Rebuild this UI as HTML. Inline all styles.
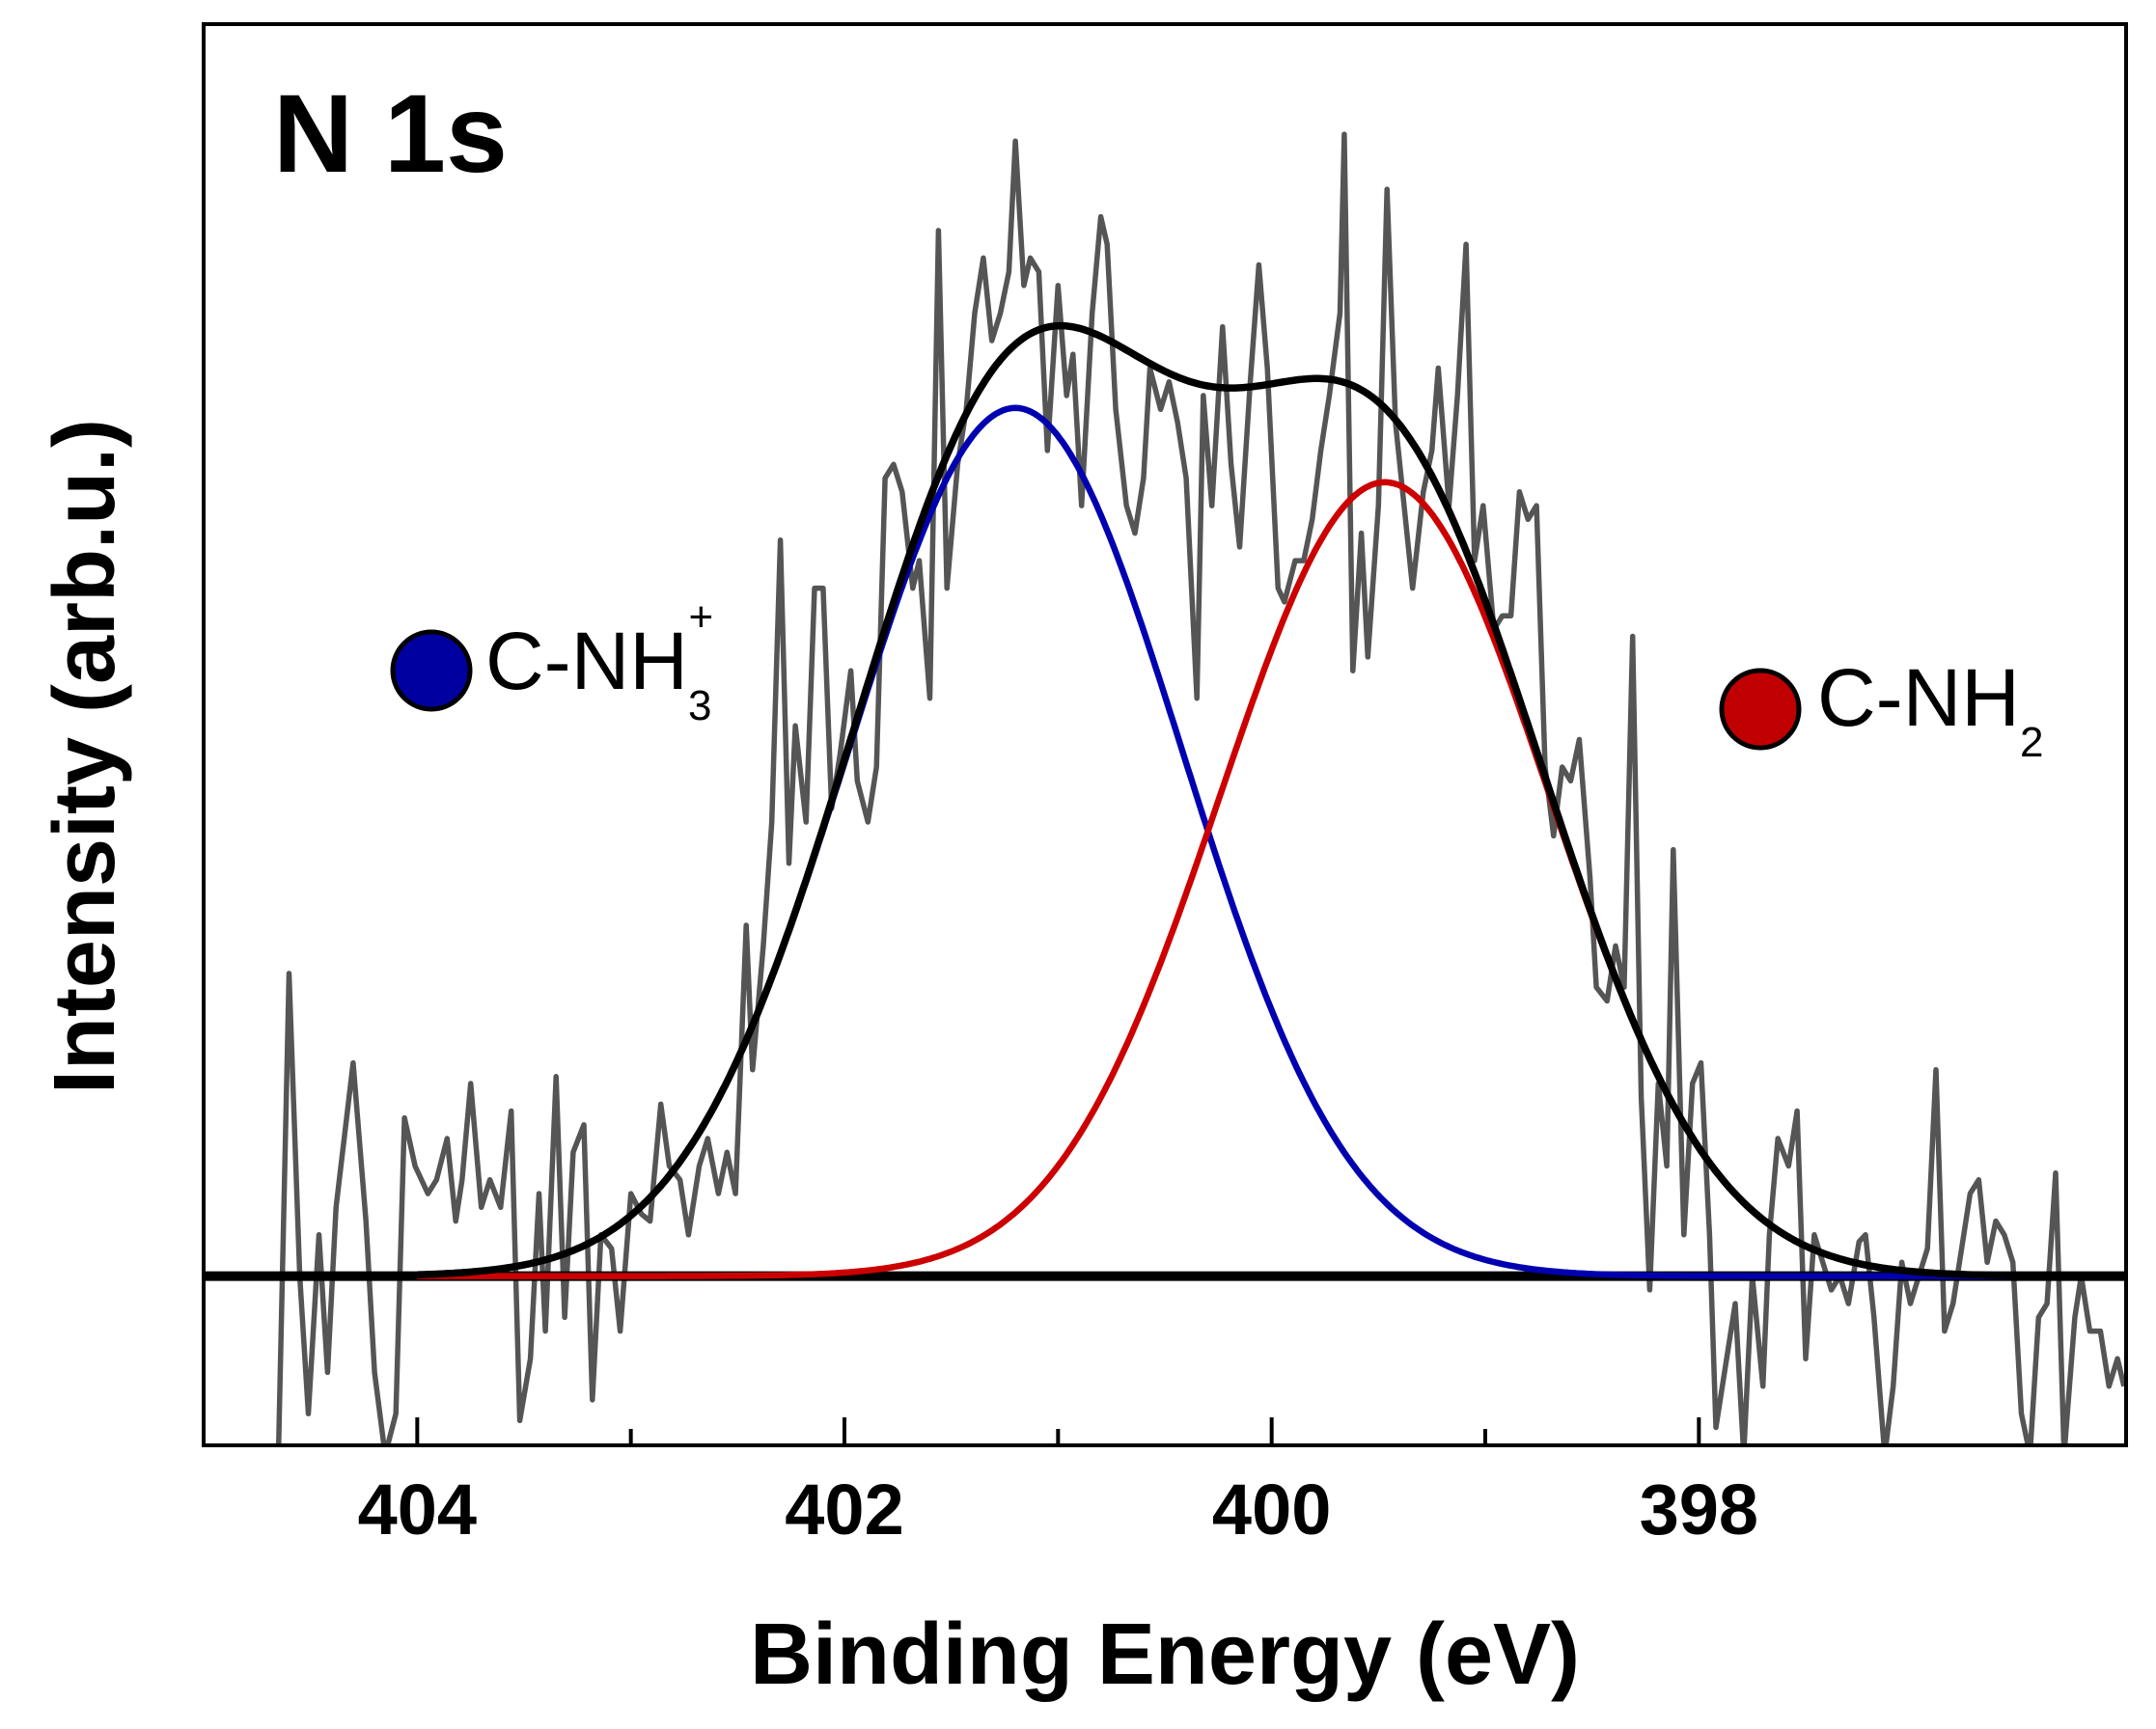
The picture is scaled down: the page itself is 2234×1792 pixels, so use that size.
<!DOCTYPE html>
<html><head><meta charset="utf-8"><style>
html,body{margin:0;padding:0;background:#fff;}
svg{display:block;}
text{font-family:"Liberation Sans",Arial,sans-serif;}
</style></head><body>
<svg id="chart" width="2234" height="1792" viewBox="0 0 2234 1792" xmlns="http://www.w3.org/2000/svg">
<defs><clipPath id="plotclip"><rect x="211" y="25" width="1992" height="1473"/></clipPath></defs>
<g id="plot" clip-path="url(#plotclip)"></g>
<rect x="211" y="25" width="1992" height="1473" fill="none" stroke="#000" stroke-width="4"/>
<g id="ticks"></g>
<text x="283" y="178" font-size="115" font-weight="bold">N 1s</text>
<text x="1207" y="1745" font-size="90" font-weight="bold" text-anchor="middle">Binding Energy (eV)</text>
<text transform="translate(118,784) rotate(-90)" font-size="90" font-weight="bold" text-anchor="middle">Intensity (arb.u.)</text>
<g>
<circle cx="447" cy="695" r="40" fill="#0000a0" stroke="#000" stroke-width="5"/>
<text x="503" y="714" font-size="84">C-NH<tspan font-size="44" dy="32">3</tspan><tspan font-size="44" dx="-24" dy="-92">+</tspan></text>
</g>
<g>
<circle cx="1824" cy="735" r="40" fill="#c00000" stroke="#000" stroke-width="5"/>
<text x="1883" y="752" font-size="84">C-NH<tspan font-size="44" dy="32">2</tspan></text>
</g>
</svg>
<script>
const energies=[404.70,404.65,404.60,404.55,404.51,404.46,404.42,404.38,404.30,404.24,404.20,404.15,404.10,404.06,404.01,403.95,403.91,403.86,403.82,403.79,403.75,403.70,403.66,403.61,403.56,403.52,403.47,403.43,403.40,403.35,403.31,403.27,403.22,403.18,403.14,403.09,403.05,403.00,402.95,402.91,402.86,402.82,402.77,402.73,402.68,402.64,402.59,402.55,402.51,402.46,402.43,402.38,402.34,402.30,402.26,402.23,402.18,402.14,402.10,402.06,402.02,401.97,401.94,401.89,401.85,401.81,401.77,401.73,401.68,401.65,401.60,401.56,401.52,401.47,401.43,401.39,401.35,401.31,401.27,401.23,401.20,401.16,401.13,401.09,401.05,401.00,400.96,400.93,400.89,400.84,400.80,400.77,400.73,400.68,400.64,400.60,400.57,400.52,400.48,400.44,400.40,400.35,400.32,400.28,400.23,400.19,400.15,400.10,400.06,400.02,399.97,399.94,399.89,399.85,399.81,399.77,399.73,399.68,399.66,399.62,399.58,399.55,399.50,399.46,399.42,399.38,399.34,399.29,399.25,399.22,399.17,399.13,399.09,399.05,399.01,398.96,398.92,398.88,398.84,398.80,398.76,398.72,398.68,398.64,398.60,398.56,398.51,398.48,398.43,398.39,398.35,398.31,398.27,398.23,398.19,398.15,398.12,398.07,398.03,397.99,397.95,397.92,397.87,397.83,397.79,397.75,397.70,397.67,397.63,397.58,397.54,397.50,397.46,397.42,397.38,397.34,397.30,397.25,397.22,397.18,397.13,397.09,397.05,397.01,396.97,396.93,396.89,396.85,396.81,396.77,396.73,396.69,396.65,396.61,396.57,396.53,396.49,396.45,396.41,396.37,396.33,396.29,396.24,396.21,396.17,396.12,396.08,396.04,396.01];
const intensities=[-130,-130,220,0,-100,30,-70,50,155,40,-70,-130,-100,115,80,60,70,100,40,70,140,50,70,50,120,-105,-60,60,-40,145,-30,90,110,-90,30,20,-40,60,45,40,125,80,70,30,80,100,60,90,60,255,150,240,330,535,300,400,330,500,500,340,380,440,360,330,370,580,590,570,500,520,420,760,500,590,630,700,740,680,700,730,825,720,740,730,600,720,640,670,560,700,770,750,630,560,540,580,660,630,650,620,580,420,640,560,690,590,530,650,735,660,500,490,520,520,550,600,640,700,830,440,540,450,560,790,620,560,500,570,600,660,560,640,750,520,560,470,480,480,570,550,560,370,320,370,360,390,290,210,200,240,210,465,130,-10,140,80,310,30,140,155,30,-110,-60,-20,-130,0,-80,30,100,80,120,-60,30,10,-10,0,-20,25,30,-30,-130,-80,10,-20,0,20,150,-40,-20,20,60,70,10,40,30,10,-100,-130,-30,-20,75,-130,-30,0,-40,-40,-80,-60,-80];
const peakCenters=[401.2,399.47];
const peakAmplitudes=[631,577];
const peakSigmas=[0.78,0.77];
const peakColors=["#0000b0","#cc0000"];
const peakNames=["fit-c-nh3-blue","fit-c-nh2-red"];
const xTicksMajor=[404,402,400,398];
const xTicksMinor=[403,401,399];

const X0=211,X1=2203,Y0=1498,Y1=25;
const xDom=[405,396],yDom=[-123,910];
function xs(e){return X0+(e-xDom[0])/(xDom[1]-xDom[0])*(X1-X0);}
function ys(v){return Y0-(v-yDom[0])/(yDom[1]-yDom[0])*(Y0-Y1);}
const NS="http://www.w3.org/2000/svg";
const plot=document.getElementById('plot');
const ticks=document.getElementById('ticks');
function gauss(e,i){const d=e-peakCenters[i];return peakAmplitudes[i]*Math.exp(-d*d/(2*peakSigmas[i]*peakSigmas[i]));}

let d='';
energies.forEach((e,i)=>{d+=(i?'L':'M')+xs(e).toFixed(1)+' '+ys(intensities[i]).toFixed(1);});
const raw=document.createElementNS(NS,'path');
raw.setAttribute('d',d);raw.setAttribute('fill','none');raw.setAttribute('stroke','#555');raw.setAttribute('stroke-width','5.5');raw.setAttribute('stroke-linejoin','round');


plot.appendChild(raw);

const bl=document.createElementNS(NS,'line');
bl.setAttribute('x1',X0);bl.setAttribute('x2',X1);bl.setAttribute('y1',ys(0));bl.setAttribute('y2',ys(0));
bl.setAttribute('stroke','#000');bl.setAttribute('stroke-width','10');


plot.appendChild(bl);

const grid=[];for(let e=404.0;e>=396.0;e-=0.01)grid.push(e);
peakCenters.forEach((c,i)=>{
  let p='';grid.forEach((e,k)=>{p+=(k?'L':'M')+xs(e).toFixed(1)+' '+ys(gauss(e,i)).toFixed(1);});
  const el=document.createElementNS(NS,'path');
  el.setAttribute('d',p);el.setAttribute('fill','none');el.setAttribute('stroke',peakColors[i]);el.setAttribute('stroke-width','6.5');
  
  
  plot.appendChild(el);
});
let s='';grid.forEach((e,k)=>{let v=0;peakCenters.forEach((c,i)=>v+=gauss(e,i));s+=(k?'L':'M')+xs(e).toFixed(1)+' '+ys(v).toFixed(1);});
const env=document.createElementNS(NS,'path');
env.setAttribute('d',s);env.setAttribute('fill','none');env.setAttribute('stroke','#000');env.setAttribute('stroke-width','7.5');


plot.appendChild(env);

xTicksMajor.forEach(t=>{
  const l=document.createElementNS(NS,'line');
  l.setAttribute('x1',xs(t));l.setAttribute('x2',xs(t));l.setAttribute('y1',Y0);l.setAttribute('y2',Y0-29);
  l.setAttribute('stroke','#000');l.setAttribute('stroke-width','4');
  
  
  ticks.appendChild(l);
  const tx=document.createElementNS(NS,'text');
  tx.setAttribute('x',xs(t));tx.setAttribute('y',1590);tx.setAttribute('text-anchor','middle');
  tx.setAttribute('font-size','74');tx.setAttribute('font-weight','bold');
  tx.textContent=t;
  
  
  ticks.appendChild(tx);
});
xTicksMinor.forEach(t=>{
  const l=document.createElementNS(NS,'line');
  l.setAttribute('x1',xs(t));l.setAttribute('x2',xs(t));l.setAttribute('y1',Y0);l.setAttribute('y2',Y0-17);
  l.setAttribute('stroke','#000');l.setAttribute('stroke-width','4');
  
  
  ticks.appendChild(l);
});
</script>
</body></html>
